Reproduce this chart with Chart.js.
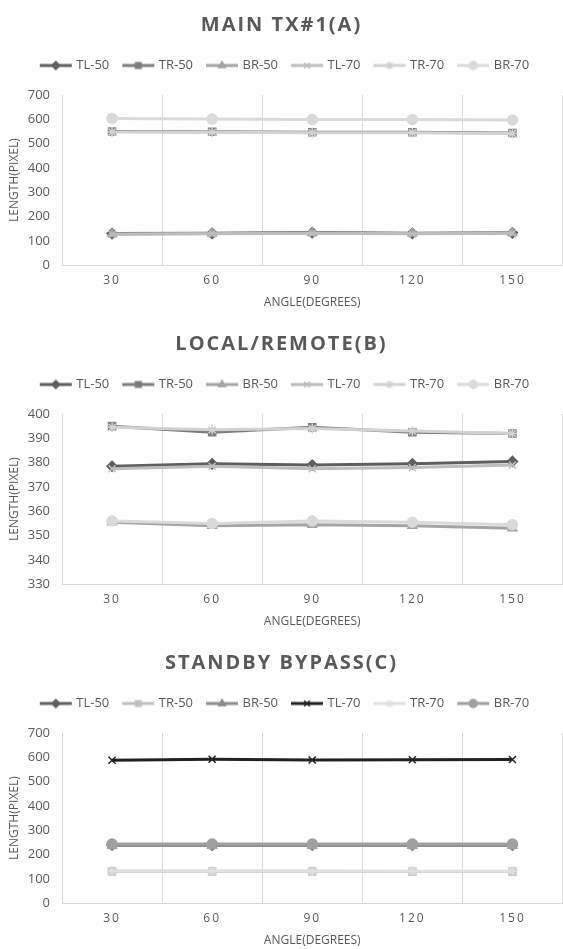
<!DOCTYPE html>
<html>
<head>
<meta charset="utf-8">
<script src="https://cdn.jsdelivr.net/npm/chart.js@4.4.1/dist/chart.umd.min.js"></script>
<style>
html, body { margin: 0; padding: 0; background: #fff; width: 563px; height: 949px; overflow: hidden; }
.block { position: absolute; left: 0; width: 563px; height: 319px; }
.block canvas { position: absolute; left: 0; top: 0; }
.block h2 { position: absolute; top: 0; left: 0; width: 563px; margin: 0; text-align: center;
  font: bold 20px "Open Sans", sans-serif; letter-spacing: 2px; color: #595959; line-height: 48px; }
</style>
</head>
<body>
<div class="block" style="top:0px"><canvas id="chartA" width="569" height="319"></canvas><h2>MAIN TX#1(A)</h2></div>
<div class="block" style="top:319px"><canvas id="chartB" width="569" height="319"></canvas><h2>LOCAL/REMOTE(B)</h2></div>
<div class="block" style="top:638px"><canvas id="chartC" width="569" height="319"></canvas><h2>STANDBY BYPASS(C)</h2></div>
<script>
// categorie (angoli) e nomi delle serie
const angles = ['30', '60', '90', '120', '150'];
const seriesNames = ['TL-50', 'TR-50', 'BR-50', 'TL-70', 'TR-70', 'BR-70'];
const markers = ['rectRot', 'rect', 'triangle', 'crossRot', 'star', 'circle'];

// MAIN TX#1(A)
const mainTL50 = [130, 131, 134, 131, 133];
const mainTR50 = [550, 549, 547, 547, 544];
const mainBR50 = [128, 130, 132, 130, 132];
const mainTL70 = [127, 129, 131, 129, 131];
const mainTR70 = [548, 547, 545, 545, 542];
const mainBR70 = [603, 601, 599, 599, 597];

// LOCAL/REMOTE(B)
const localTL50 = [378.5, 379.5, 379, 379.5, 380.5];
const localTR50 = [395, 392.5, 394.5, 392.5, 392];
const localBR50 = [355.5, 354, 354.5, 354, 353];
const localTL70 = [377.5, 378.5, 377.5, 378, 379];
const localTR70 = [394.5, 393.5, 394, 393, 392];
const localBR70 = [356, 355, 356, 355.5, 354.5];

// STANDBY BYPASS(C)
const standbyTL50 = [239, 239, 239, 239, 239];
const standbyTR50 = [131, 131, 131, 130, 130];
const standbyBR50 = [237, 237, 237, 237, 237];
const standbyTL70 = [588, 592, 589, 590, 591];
const standbyTR70 = [132, 132, 132, 131, 131];
const standbyBR70 = [243, 243, 243, 243, 243];

// colori delle serie
const colorsAB = ['#5e5e5e', '#7c7c7c', '#a4a4a4', '#bdbdbd', '#d2d2d2', '#dadada'];
const colorsC = ['#606060', '#c0c0c0', '#8c8c8c', '#222222', '#e0e0e0', '#a0a0a0'];

const textColor = '#595959';
Chart.defaults.font.family = '"Open Sans", sans-serif';
Chart.defaults.color = textColor;

// spazio extra sotto la legenda
const legendGap = {
    id: 'legendGap',
    beforeInit(chart) {
        const fit = chart.legend.fit;
        chart.legend.fit = function () {
            fit.bind(chart.legend)();
            this.height += 13;
        };
    }
};

// etichette dell'asse X spaziate (disegnate dopo i dataset, z: 1)
const spacedTicks = {
    id: 'spacedTicks',
    afterDatasetsDraw(chart) { chart.ctx.letterSpacing = '2px'; },
    afterDraw(chart) { chart.ctx.letterSpacing = '0px'; }
};

// icona della legenda: linea con marker al centro
function legendIcon(color, shape) {
    const c = document.createElement('canvas');
    c.width = 36; c.height = 12;
    const g = c.getContext('2d');
    g.strokeStyle = color; g.fillStyle = color;
    g.lineWidth = 3;
    g.beginPath(); g.moveTo(2, 6); g.lineTo(34, 6); g.stroke();
    g.lineWidth = 1.5;
    Chart.helpers.drawPoint(g, { pointStyle: shape, radius: 4, rotation: 0, borderWidth: 1.5 }, 18, 6);
    return c;
}

function makeSets(values, colors) {
    return values.map((data, i) => ({
        label: seriesNames[i],
        data: data,
        borderColor: colors[i],
        backgroundColor: colors[i],
        borderWidth: 3,
        pointStyle: markers[i],
        pointRadius: 5,
        pointBorderWidth: 1.5,
        pointBackgroundColor: colors[i],
        pointBorderColor: colors[i],
        order: 5 - i // l'ultima serie sopra, come in Excel
    }));
}

function createChart(id, values, colors, yMin, yMax, yStep) {
    const ctx = document.getElementById(id).getContext('2d');
    return new Chart(ctx, {
        type: 'line',
        data: { labels: angles, datasets: makeSets(values, colors) },
        plugins: [legendGap, spacedTicks],
        options: {
            responsive: false,
            animation: false,
            layout: { padding: { top: 44, left: 3, right: 1, bottom: 5 } },
            plugins: {
                tooltip: { enabled: false },
                legend: {
                    position: 'top',
                    labels: {
                        usePointStyle: true,
                        pointStyleWidth: 28,
                        padding: 15,
                        color: textColor,
                        font: { size: 13 },
                        generateLabels: chart => chart.data.datasets.map((ds, i) => ({
                            text: ds.label,
                            fillStyle: ds.borderColor,
                            strokeStyle: ds.borderColor,
                            lineWidth: 0,
                            pointStyle: legendIcon(ds.borderColor, ds.pointStyle),
                            datasetIndex: i,
                            hidden: false,
                            fontColor: textColor
                        }))
                    }
                }
            },
            scales: {
                x: {
                    offset: true,
                    grid: { offset: true, color: '#d9d9d9', drawTicks: false },
                    border: { display: true, color: '#d9d9d9' },
                    ticks: { color: textColor, font: { size: 12 }, padding: 8, z: 1 },
                    title: { display: true, text: 'ANGLE(DEGREES)', color: textColor, font: { size: 12 }, padding: { top: 0, bottom: 4 } }
                },
                y: {
                    min: yMin,
                    max: yMax,
                    afterFit: scale => { scale.width = 59; },
                    grid: { display: false, drawTicks: false },
                    border: { display: true, color: '#d9d9d9' },
                    ticks: { stepSize: yStep, color: textColor, font: { size: 13 }, padding: 12 },
                    title: { display: true, text: 'LENGTH(PIXEL)', color: textColor, font: { size: 12 }, padding: { top: 4, bottom: 4 } }
                }
            }
        }
    });
}

createChart('chartA', [mainTL50, mainTR50, mainBR50, mainTL70, mainTR70, mainBR70], colorsAB, 0, 700, 100);
createChart('chartB', [localTL50, localTR50, localBR50, localTL70, localTR70, localBR70], colorsAB, 330, 400, 10);
createChart('chartC', [standbyTL50, standbyTR50, standbyBR50, standbyTL70, standbyTR70, standbyBR70], colorsC, 0, 700, 100);
</script>
</body>
</html>
